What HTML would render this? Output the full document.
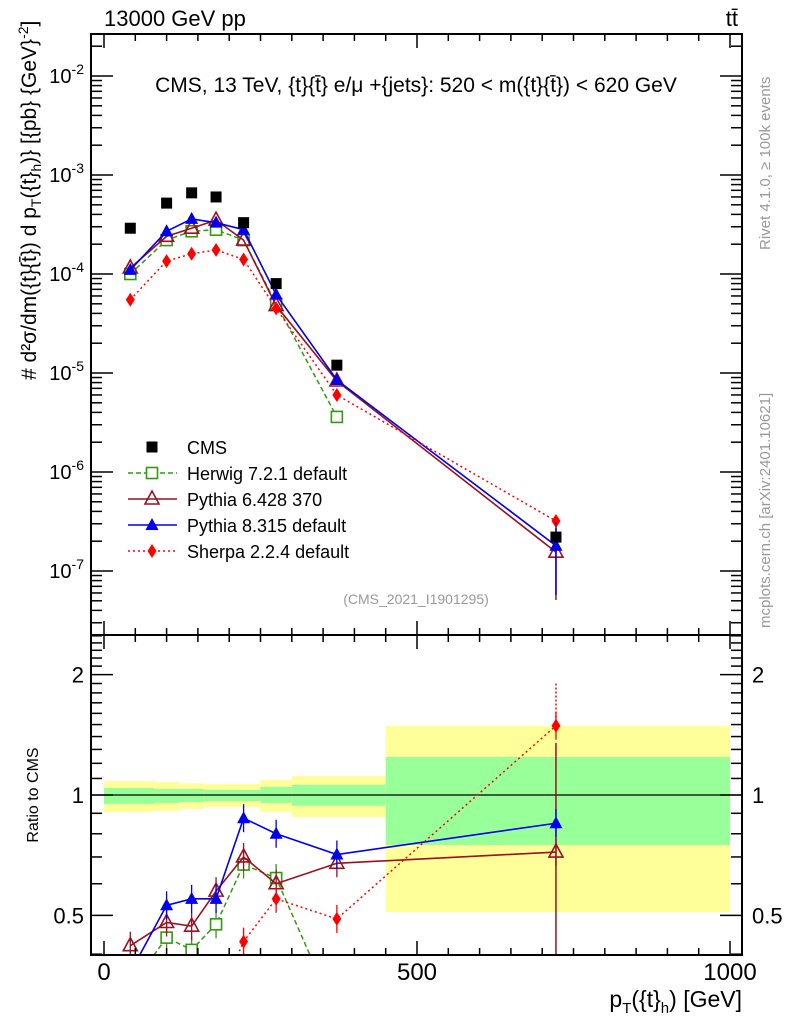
<!DOCTYPE html>
<html><head><meta charset="utf-8"><style>
html,body{margin:0;background:#fff;overflow:hidden;width:786px;height:1024px;}
svg{display:block;font-family:"Liberation Sans",sans-serif;}
</style></head><body>
<svg id="chart" width="786" height="1024" viewBox="0 0 786 1024"></svg>
<script>
const xs=[42,100,140,179,223,275,372,722];
const cms=[2.9e-4,5.2e-4,6.6e-4,6.0e-4,3.3e-4,8.0e-5,1.2e-5,2.2e-7];
const herwig=[1.0e-4,2.2e-4,2.7e-4,2.8e-4,2.2e-4,5.0e-5,3.6e-6,null];
const py6=[1.15e-4,2.4e-4,2.9e-4,3.5e-4,2.2e-4,4.8e-5,8.3e-6,1.55e-7];
const py8=[1.1e-4,2.7e-4,3.6e-4,3.3e-4,2.8e-4,6.2e-5,8.5e-6,1.8e-7];
const sherpa=[5.5e-5,1.35e-4,1.6e-4,1.75e-4,1.4e-4,4.5e-5,6.0e-6,3.2e-7];
const rHerwig=[0.33,0.44,0.41,0.475,0.67,0.62,0.28,null];
const rPy6=[0.42,0.48,0.47,0.575,0.70,0.60,0.675,0.72];
const rPy8=[0.36,0.53,0.55,0.55,0.875,0.80,0.71,0.85];
const rSherpa=[0.2,0.25,0.28,0.3,0.43,0.55,0.49,1.49];
const bandEdges=[0,80,120,160,250,300,450,1000];
const yelHi=[1.084,1.078,1.07,1.065,1.09,1.115,1.49];
const yelLo=[0.907,0.912,0.923,0.933,0.907,0.88,0.51];
const grnHi=[1.041,1.035,1.035,1.03,1.047,1.06,1.245];
const grnLo=[0.95,0.955,0.96,0.966,0.955,0.94,0.75];
const decades=[-2,-3,-4,-5,-6,-7];

const S=document.getElementById('chart');const NS='http://www.w3.org/2000/svg';
function el(t,a,p){const e=document.createElementNS(NS,t);for(const k in a)e.setAttribute(k,a[k]);(p||S).appendChild(e);return e;}
const L=91,R=742,T=34,M=635,B=955;
const X=v=>104+v*0.626;
const Y=v=>76-(Math.log10(v)+2)*99;
const YR=r=>795-400*Math.log10(r);

const gb=el('g',{});
const cl=el('clipPath',{id:'rc'});el('rect',{x:L,y:M,width:R-L,height:B-M},cl);
const cm=el('clipPath',{id:'mc'});el('rect',{x:L,y:T,width:R-L,height:M-T},cm);
for(let i=0;i<7;i++){
 const x1=X(bandEdges[i]),x2=X(bandEdges[i+1]);
 const a=el('rect',{x:x1,y:YR(yelHi[i]),width:x2-x1,height:YR(yelLo[i])-YR(yelHi[i]),fill:'#ffff99','clip-path':'url(#rc)'},gb);
 
 const b=el('rect',{x:x1,y:YR(grnHi[i]),width:x2-x1,height:YR(grnLo[i])-YR(grnHi[i]),fill:'#99ff99','clip-path':'url(#rc)'},gb);
 
}
el('line',{x1:L,x2:R,y1:YR(1),y2:YR(1),stroke:'#000','stroke-width':1.2});

function marker(g,type,x,y,c){
 const s=5.5;
 if(type==='fsq')el('rect',{x:x-s,y:y-s,width:2*s,height:2*s,fill:c},g);
 else if(type==='osq')el('rect',{x:x-s,y:y-s,width:2*s,height:2*s,fill:'#fff',stroke:c,'stroke-width':1.6},g);
 else if(type==='otri')el('polygon',{points:`${x},${y-8} ${x-7},${y+5} ${x+7},${y+5}`,fill:'none',stroke:c,'stroke-width':1.6},g);
 else if(type==='ftri')el('polygon',{points:`${x},${y-7} ${x-6.5},${y+5} ${x+6.5},${y+5}`,fill:c},g);
 else if(type==='dia')el('polygon',{points:`${x},${y-7} ${x-4.5},${y} ${x},${y+7} ${x+4.5},${y}`,fill:c},g);
}
const series=[
 {n:'herwig',m:herwig,r:rHerwig,c:'#339911',t:'osq',d:'5,3',w:1.5},
 {n:'pythia6',m:py6,r:rPy6,c:'#991122',t:'otri',d:'',w:1.6},
 {n:'pythia8',m:py8,r:rPy8,c:'#0000ee',t:'ftri',d:'',w:1.6},
 {n:'sherpa',m:sherpa,r:rSherpa,c:'#ff0000',t:'dia',d:'2,3',w:1.5}];
// long error bars at last point in ratio (drawn under markers)
el('line',{x1:X(722),x2:X(722),y1:YR(1.35),y2:B,stroke:'#991122','stroke-width':1.5,'clip-path':'url(#rc)'});
el('line',{x1:X(722),x2:X(722),y1:YR(1.9),y2:YR(1.49),stroke:'#ff0000','stroke-width':1.5,'stroke-dasharray':'2,2'});
for(const s of series){
 const g=el('g',{'clip-path':'url(#mc)'});
 const pts=[];xs.forEach((x,i)=>{if(s.m[i]!=null)pts.push([X(x),Y(s.m[i])]);});
 el('polyline',{points:pts.map(p=>p.join(',')).join(' '),fill:'none',stroke:s.c,'stroke-width':s.w,'stroke-dasharray':s.d},g);
 pts.forEach(p=>marker(g,s.t,p[0],p[1],s.c));
 const gr=el('g',{'clip-path':'url(#rc)'});
 const rp=[];xs.forEach((x,i)=>{if(s.r[i]!=null)rp.push([X(x),YR(s.r[i])]);});
 el('polyline',{points:rp.map(p=>p.join(',')).join(' '),fill:'none',stroke:s.c,'stroke-width':s.w,'stroke-dasharray':s.d},gr);
 rp.forEach(p=>{el('line',{x1:p[0],x2:p[0],y1:p[1]-14,y2:p[1]+14,stroke:s.c,'stroke-width':1.3},gr);marker(gr,s.t,p[0],p[1],s.c);});
}
el('line',{x1:X(722),x2:X(722),y1:600,y2:522,stroke:'#991122','stroke-width':1.5});
el('line',{x1:X(722),x2:X(722),y1:595,y2:528,stroke:'#0000ee','stroke-width':1.5});
const gc=el('g',{});
xs.forEach((x,i)=>marker(gc,'fsq',X(x),Y(cms[i]),'#000'));

el('rect',{x:L,y:T,width:R-L,height:M-T,fill:'none',stroke:'#000','stroke-width':2});
el('rect',{x:L,y:M,width:R-L,height:B-M,fill:'none',stroke:'#000','stroke-width':2});
for(let v=0;v<=1000;v+=50){const x=X(v),mj=v%500===0,h=mj?14:7;
 for(const [y0,dir] of [[M,-1],[M,1],[B,-1],[T,1]])el('line',{x1:x,x2:x,y1:y0,y2:y0+dir*h,stroke:'#000','stroke-width':1.5});
 if(mj){const t=el('text',{x:x,y:980,'font-size':24,'text-anchor':'middle'});t.textContent=v;}}
for(let d=-8;d<=-1;d++)for(let k=1;k<10;k++){const v=k*Math.pow(10,d),y=Y(v);if(y<T||y>M)continue;const h=k===1?22:11;
 el('line',{x1:L,x2:L+h,y1:y,y2:y,stroke:'#000','stroke-width':1.5});el('line',{x1:R,x2:R-h,y1:y,y2:y,stroke:'#000','stroke-width':1.5});}
decades.forEach(d=>{const t=el('text',{x:84,y:Y(Math.pow(10,d))+7,'font-size':20,'text-anchor':'end'});t.innerHTML='10<tspan dy="-9" font-size="14">'+d+'</tspan>';});
for(let v=0.4;v<=2.55;v+=0.1){const y=YR(v);const mj=[0.5,1,2].some(m=>Math.abs(m-v)<1e-6);const h=mj?22:11;
 el('line',{x1:L,x2:L+h,y1:y,y2:y,stroke:'#000','stroke-width':1.5});el('line',{x1:R,x2:R-h,y1:y,y2:y,stroke:'#000','stroke-width':1.5});}
['2','1','0.5'].forEach(s=>{const y=YR(+s)+8;for(const [x,a] of [[84,'end'],[752,'start']]){const t=el('text',{x:x,y:y,'font-size':22,'text-anchor':a});t.textContent=s;}});
function txt(s,a,name){const t=el('text',a);t.innerHTML=s;return t;}
txt('13000 GeV pp',{x:104,y:26,'font-size':22},'energy-label');
txt('tt̄',{x:738,y:26,'font-size':22,'text-anchor':'end'},'process-label');
txt('CMS, 13 TeV, {t}{t̄} e/μ +{jets}: 520 &lt; m({t}{t̄}) &lt; 620 GeV',{x:416,y:92,'font-size':21,'text-anchor':'middle'},'plot-title');
txt('(CMS_2021_I1901295)',{x:416,y:604,'font-size':14,fill:'#999','text-anchor':'middle'},'analysis-id');
txt('p<tspan dy="6" font-size="15">T</tspan><tspan dy="-6">({t}</tspan><tspan dy="6" font-size="15">h</tspan><tspan dy="-6">) [GeV]</tspan>',{x:742,y:1007,'font-size':23,'text-anchor':'end'},'x-axis-title');
txt('Ratio to CMS',{x:0,y:0,'font-size':16,transform:'translate(38,795) rotate(-90)','text-anchor':'middle'},'ratio-axis-title');
txt('# d²σ/dm({t}{t̄}) d p<tspan font-size="14" dy="5">T</tspan><tspan dy="-5">({t}</tspan><tspan font-size="14" dy="5">h</tspan><tspan dy="-5">)} [{pb} {GeV}</tspan><tspan font-size="14" dy="-8">-2</tspan><tspan dy="8">]</tspan>',{x:0,y:0,'font-size':21,transform:'translate(36,380) rotate(-90)'},'y-axis-title');
txt('Rivet 4.1.0, ≥ 100k events',{x:0,y:0,'font-size':15,fill:'#999',transform:'translate(770,250) rotate(-90)'},'rivet-label');
txt('mcplots.cern.ch [arXiv:2401.10621]',{x:0,y:0,'font-size':15,fill:'#999',transform:'translate(770,628) rotate(-90)'},'mcplots-label');
const lg=el('g',{});
const leg=[['CMS',null],['Herwig 7.2.1 default',series[0]],['Pythia 6.428 370',series[1]],['Pythia 8.315 default',series[2]],['Sherpa 2.2.4 default',series[3]]];
leg.forEach((e,i)=>{const y=447+i*26;const g=el('g',{},lg);
 if(e[1]){el('line',{x1:128,x2:177,y1:y,y2:y,stroke:e[1].c,'stroke-width':1.5,'stroke-dasharray':e[1].d},g);marker(g,e[1].t,152,y,e[1].c);}else marker(g,'fsq',152,y,'#000');
 const t=el('text',{x:187,y:y+7,'font-size':18},g);t.textContent=e[0];});
</script>
</body></html>
